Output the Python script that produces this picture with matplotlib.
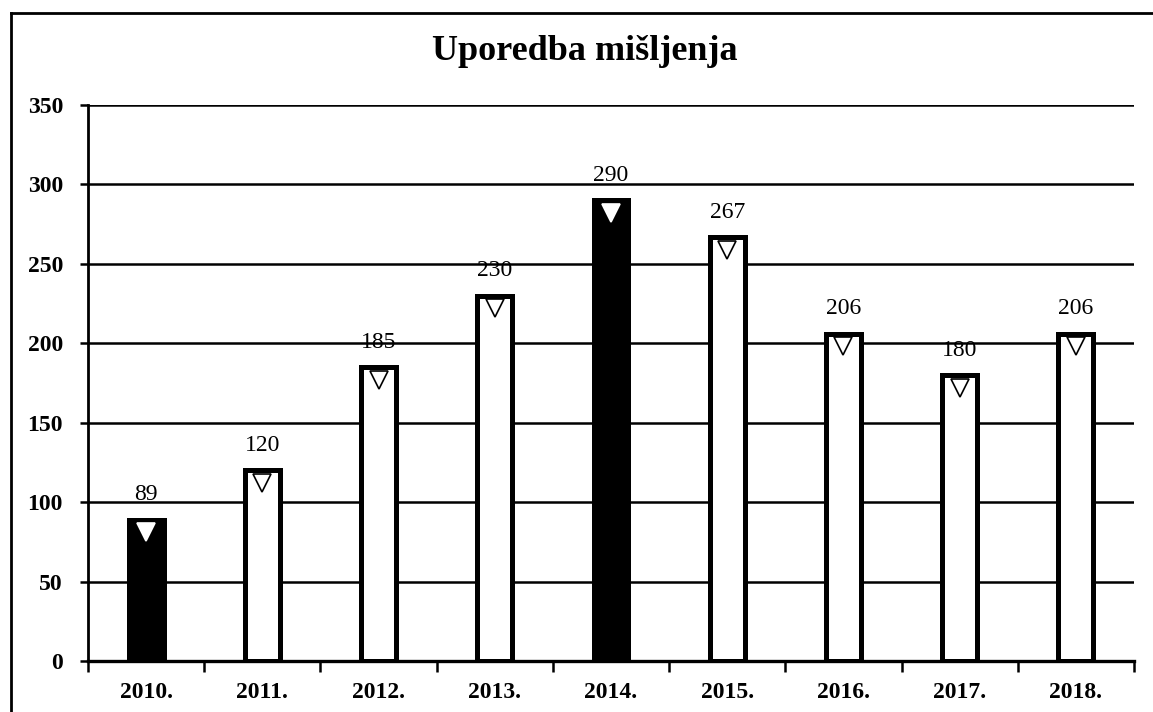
import matplotlib.pyplot as plt
from matplotlib.lines import Line2D

# data
years = ["2010.", "2011.", "2012.", "2013.", "2014.", "2015.", "2016.", "2017.", "2018."]
values = [89, 120, 185, 230, 290, 267, 206, 180, 206]
dark = [True, False, False, False, True, False, False, False, False]

plt.rcParams["font.family"] = ["Liberation Serif", "DejaVu Serif"]

fig = plt.figure(figsize=(11.53, 7.12), dpi=100)
ax = fig.add_axes([0.0763, 0.0716, 0.9072, 0.7809])

x = list(range(len(years)))
colors = ["black" if d else "white" for d in dark]
ax.bar(x, values, width=0.3, color=colors, edgecolor="black", linewidth=3.6, zorder=3)

# little notch marks at the top of each bar
for xi, v, d in zip(x, values, dark):
    ax.plot(xi, v - 8, marker="v", markersize=13,
            markerfacecolor="white", markeredgecolor="white" if d else "black",
            markeredgewidth=1.2, zorder=4)
    ax.text(xi, v + 9, str(v), ha="center", va="bottom",
            fontsize=17, zorder=5)

ax.set_xlim(-0.5, len(years) - 0.5)
ax.set_ylim(0, 350)
ax.set_yticks(range(0, 351, 50))
ax.yaxis.grid(True, color="black", linewidth=1.8, zorder=0)
ax.set_axisbelow(True)

ax.set_xticks(x)
ax.set_xticklabels(years, fontsize=17, fontweight="bold")
ax.set_xticks([i - 0.5 for i in range(len(years) + 1)], minor=True)
ax.tick_params(axis="x", which="major", length=0, pad=15)
ax.tick_params(axis="x", which="minor", length=8, width=1.8, direction="out")
ax.tick_params(axis="y", length=6, width=1.8, direction="out", pad=12, labelsize=17)
for lab in ax.get_yticklabels():
    lab.set_fontweight("bold")

for side in ["top", "right"]:
    ax.spines[side].set_visible(False)
ax.spines["left"].set_linewidth(2)
ax.spines["bottom"].set_linewidth(2.4)

fig.text(0.507, 0.927, "Uporedba mišljenja", ha="center", va="center",
         fontsize=26, fontweight="bold")

# outer frame of the scanned chart (only left and top edges visible)
fig.add_artist(Line2D([0.0095, 0.0095], [0.0, 0.982], color="black", linewidth=2))
fig.add_artist(Line2D([0.0095, 1.0], [0.982, 0.982], color="black", linewidth=2))

fig.savefig("out.png", dpi=100)
